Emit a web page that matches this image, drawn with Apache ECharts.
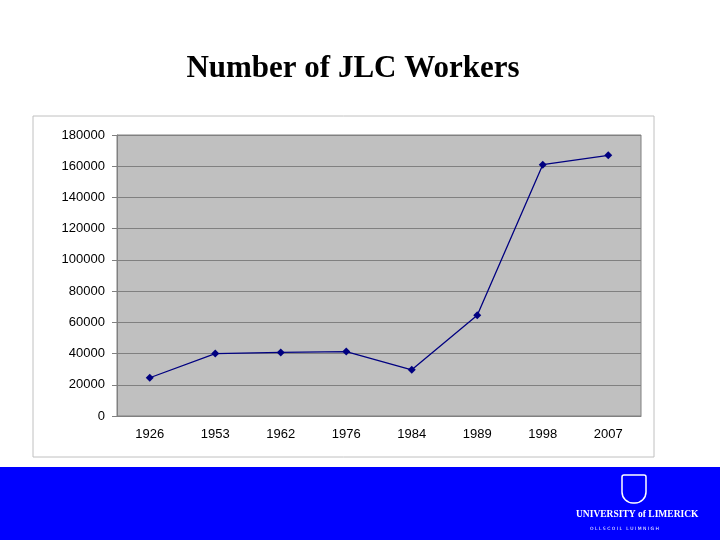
<!DOCTYPE html>
<html>
<head>
<meta charset="utf-8">
<script src="https://cdn.jsdelivr.net/npm/echarts@6/dist/echarts.min.js"></script>
<style>html,body{margin:0;padding:0;background:#fff}#chart{width:720px;height:540px}</style>
</head>
<body>
<div id="chart"></div>
<script>
const years = ["1926", "1953", "1962", "1976", "1984", "1989", "1998", "2007"];
const workers = [24500, 40000, 40700, 41300, 29600, 64500, 161000, 167000];

const chart = echarts.init(document.getElementById("chart"));
chart.setOption({
  animation: false,
  title: {
    text: "Number of JLC Workers",
    left: 348, top: 48, textAlign: "center",
    textStyle: { fontFamily: "Liberation Serif", fontWeight: "bold", fontSize: 31, color: "#000" }
  },
  graphic: [
    { type: "rect", z: -10, shape: { x: 33, y: 116, width: 621, height: 341 },
      style: { fill: "#fff", stroke: "#c0c0c0", lineWidth: 1 } },
    { type: "rect", z: -10, shape: { x: 0, y: 467, width: 720, height: 73 },
      style: { fill: "#0000ff" } },
    { type: "text", left: 576, top: 510,
      style: { text: "UNIVERSITY of LIMERICK", fill: "#fff", font: "bold 9.5px 'Liberation Serif'" } },
    { type: "text", left: 590, top: 526,
      style: { text: "O L L S C O I L   L U I M N I G H", fill: "#fff", font: "4.5px 'DejaVu Sans'" } },
    { type: "rect", shape: { x: 622, y: 475, width: 24, height: 28, r: [2, 2, 11, 11] },
      style: { fill: "#0000ff", stroke: "#fff", lineWidth: 1.5 } }
  ],
  grid: { left: 117, right: 79, top: 135, bottom: 124, show: true,
    backgroundColor: "#c0c0c0", borderColor: "#808080", borderWidth: 1 },
  xAxis: {
    type: "category", data: years, boundaryGap: true,
    axisLine: { lineStyle: { color: "#808080" } },
    axisTick: { lineStyle: { color: "#808080" } },
    axisLabel: { color: "#000", fontFamily: "Liberation Sans", fontSize: 13, margin: 12 }
  },
  yAxis: {
    type: "value", min: 0, max: 180000, interval: 20000,
    axisLine: { show: true, lineStyle: { color: "#808080" } },
    axisTick: { show: true, lineStyle: { color: "#808080" } },
    splitLine: { lineStyle: { color: "#808080", width: 1 } },
    axisLabel: { color: "#000", fontFamily: "Liberation Sans", fontSize: 13, margin: 12,
      formatter: v => String(v) }
  },
  series: [{
    type: "line", data: workers,
    symbol: "diamond", symbolSize: 8,
    lineStyle: { color: "#000080", width: 1.3 },
    itemStyle: { color: "#000080" }
  }]
});
</script>
</body>
</html>
